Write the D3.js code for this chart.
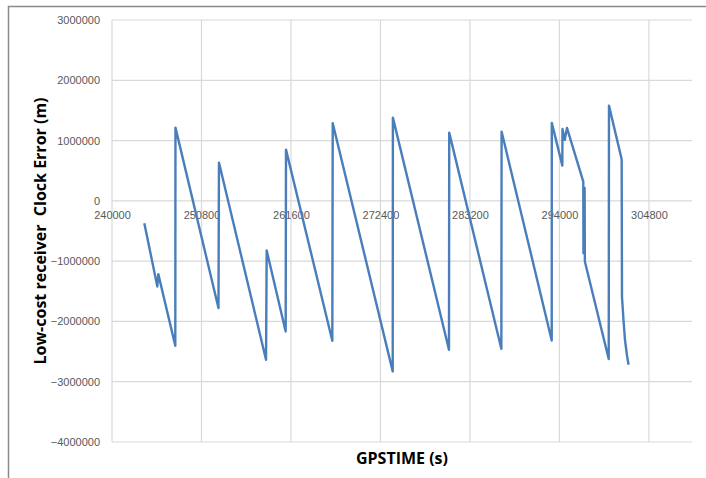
<!DOCTYPE html>
<html>
<head>
<meta charset="utf-8">
<script src="https://cdn.jsdelivr.net/npm/d3@7"></script>
<style>
  body { margin: 0; background: #fff; }
  svg { display: block; }
  .tick text { font-family: "Liberation Sans", Arial, sans-serif; font-size: 11px; fill: #595959; }
  .title { font-family: "Open Sans", sans-serif; font-weight: bold; font-size: 16px; fill: #000; }
</style>
</head>
<body>
<div id="chart"></div>
<script>
// GPS time of each sample (s)
const gpsTime = [
  243900, 245470, 245590, 247640, 247660, 252850, 252910, 258590, 258670, 260960,
  261000, 266590, 266640, 273880, 273900, 280670, 280700, 286990, 287020, 293070,
  293080, 294350, 294370, 294640, 294910, 296880, 296900, 297040, 297070, 299950,
  299980, 301510, 301550, 301730, 301910, 302160, 302340
];
// receiver clock error (m)
const clockError = [
  -370000, -1420000, -1215000, -2403000, 1215000, -1778000, 635000, -2635000, -824000, -2166000,
  850000, -2320000, 1288000, -2829000, 1381000, -2470000, 1132000, -2453000, 1149000, -2315000,
  1293000, 585000, 1193000, 1011000, 1210000, 320000, -867000, 215000, -1006000, -2624000,
  1580000, 691000, -1591000, -1972000, -2304000, -2569000, -2718000
];
const xTicks = d3.range(240000, 310001, 10800);
const yTicks = d3.range(-4000000, 3000001, 1000000);

const width = 706, height = 478;
const margin = { top: 20, right: 14, bottom: 36, left: 112 };

const svg = d3.select('#chart').append('svg')
    .attr('width', width)
    .attr('height', height);

// outer frame (top and left edges visible)
svg.append('path')
    .attr('d', `M8.5,${height} L8.5,6.5 L${width},6.5`)
    .attr('fill', 'none')
    .attr('stroke', '#8a8a8a')
    .attr('stroke-width', 1.5);

const x = d3.scaleLinear().domain([240000, 310000]).range([margin.left, width - margin.right]);
const y = d3.scaleLinear().domain([-4000000, 3000000]).range([height - margin.bottom, margin.top]);

// horizontal gridlines
svg.append('g')
    .attr('class', 'grid-y')
    .selectAll('line')
    .data(yTicks)
    .join('line')
    .attr('x1', x.range()[0])
    .attr('x2', x.range()[1])
    .attr('y1', d => y(d))
    .attr('y2', d => y(d))
    .attr('stroke', '#d9d9d9')
    .attr('stroke-width', 1.2);

// vertical gridlines
svg.append('g')
    .attr('class', 'grid-x')
    .selectAll('line')
    .data(xTicks)
    .join('line')
    .attr('x1', d => x(d))
    .attr('x2', d => x(d))
    .attr('y1', y.range()[0])
    .attr('y2', y.range()[1])
    .attr('stroke', '#d9d9d9')
    .attr('stroke-width', 1.2);

// y axis labels
const yAxis = svg.append('g')
    .attr('transform', `translate(${margin.left},0)`)
    .call(d3.axisLeft(y).tickValues(yTicks).tickSize(0).tickPadding(12).tickFormat(d3.format('d')));
yAxis.select('.domain').remove();

// x axis labels sit under the zero line
const xAxis = svg.append('g')
    .attr('transform', `translate(0,${y(0)})`)
    .call(d3.axisBottom(x).tickValues(xTicks).tickSize(0).tickPadding(10).tickFormat(d3.format('d')));
xAxis.select('.domain').remove();

// the series
const line = d3.line()
    .x((d, i) => x(gpsTime[i]))
    .y(d => y(d));

svg.append('path')
    .datum(clockError)
    .attr('fill', 'none')
    .attr('stroke', '#4a7ebb')
    .attr('stroke-width', 2.4)
    .attr('stroke-linejoin', 'round')
    .attr('d', line);

// axis titles
svg.append('text')
    .attr('class', 'title')
    .attr('x', (x.range()[0] + x.range()[1]) / 2)
    .attr('y', 464)
    .attr('text-anchor', 'middle')
    .text('GPSTIME (s)');

svg.append('text')
    .attr('class', 'title')
    .attr('transform', 'translate(46,231) rotate(-90)')
    .attr('text-anchor', 'middle')
    .attr('xml:space', 'preserve')
    .style('white-space', 'pre')
    .text('Low-cost receiver  Clock Error (m)');
</script>
</body>
</html>
